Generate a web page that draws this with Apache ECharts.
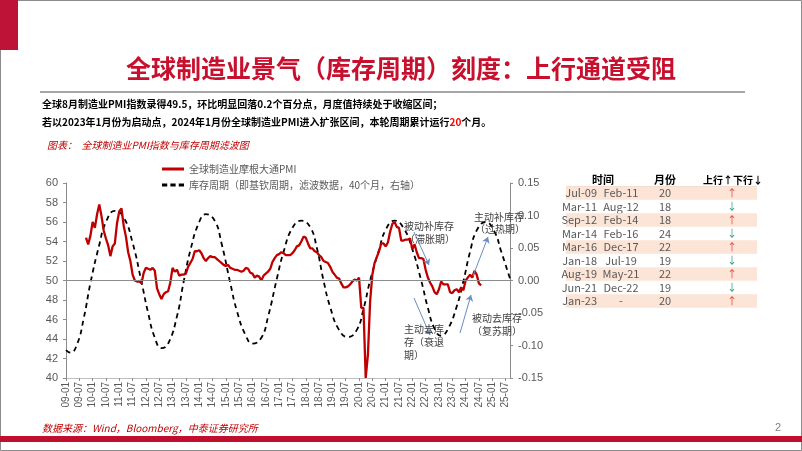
<!DOCTYPE html>
<html><head><meta charset="utf-8">
<script src="https://cdn.jsdelivr.net/npm/echarts@6.0.0/dist/echarts.min.js"></script>
<style>html,body{margin:0;padding:0;background:#fff}#c{width:802px;height:451px}</style>
</head><body><div id="c"></div>
<script>
// ---- categories (monthly, YY-MM) ----
const axisStartYear = 2009, axisEndYear = 2025, axisEndMonth = 9;
// ---- axis ticks ----
const leftMin = 40, leftMax = 60, leftStep = 2;
const rightMin = -0.15, rightMax = 0.15, rightStep = 0.05;

// ---- JPM global manufacturing PMI, monthly from 09-10 to 24-08 ----
const pmiStart = '09-10';
const pmiValues = [
  54.4, 53.7, 54.6,
  56.0, 55.4, 56.8, 57.8, 56.6, 55.1, 54.3, 53.6, 52.5, 53.5, 53.8, 55.9,
  57.1, 57.4, 55.6, 54.5, 52.9, 52.0, 50.6, 50.0, 49.9, 49.9, 49.7, 50.8,
  51.3, 51.2, 51.1, 51.3, 51.0, 49.2, 48.6, 48.1, 48.6, 48.8, 48.9, 49.8,
  51.3, 50.9, 51.1, 50.5, 50.6, 50.6, 50.7, 51.4, 51.8, 52.2, 53.0, 53.0,
  53.1, 52.8, 52.3, 52.0, 52.3, 52.5, 52.4, 52.4, 52.2, 52.0, 51.8, 51.6,
  51.5, 51.6, 51.3, 51.2, 51.1, 51.1, 51.0, 50.9, 51.0, 51.3, 51.2, 50.8,
  50.7, 50.3, 50.5, 50.4, 50.0, 50.5, 50.7, 50.9, 51.2, 51.9, 52.3, 52.6,
  52.7, 52.9, 52.8, 52.6, 52.6, 52.6, 52.8, 53.1, 53.5, 53.6, 54.0, 54.5,
  54.4, 53.8, 53.3, 53.3, 53.0, 52.9, 52.6, 52.4, 52.0, 51.9, 51.8, 51.4,
  50.9, 50.6, 50.3, 50.2, 49.7, 49.3, 49.3, 49.4, 49.6, 49.9, 50.1, 50.0,
  50.3, 47.2, 47.2, 40.0, 42.4, 47.9, 50.6, 51.8, 52.4, 53.0, 53.8, 53.8,
  53.5, 53.9, 55.0, 55.8, 56.0, 55.5, 55.4, 54.1, 54.1, 54.2, 54.2, 54.3,
  53.2, 53.7, 52.9, 52.3, 52.3, 52.2, 51.1, 50.3, 49.8, 49.4, 48.8, 48.6,
  49.1, 49.9, 49.6, 49.6, 49.6, 48.8, 48.7, 49.0, 49.1, 48.8, 49.3, 49.0,
  50.0, 50.3, 50.6, 50.3, 51.0, 50.6, 49.7, 49.5
];

// ---- inventory cycle (filtered, right axis) ----
const cycleMonths = ['09-01','09-03','09-06','09-09','09-12','10-04','10-07','10-11','11-03','11-07','11-11',
  '12-02','12-05','12-08','12-11','13-03','13-06','13-09','14-01','14-04','14-08','14-11','15-03',
  '15-06','15-10','16-01','16-05','16-08','16-12','17-03','17-07','17-11','18-03','18-06','18-09',
  '18-12','19-04','19-08','19-12','20-03','20-06','20-10','21-01','21-05','21-09','22-01','22-05',
  '22-08','22-11','23-02','23-05','23-09','23-12','24-03','24-06','24-10','25-02','25-05','25-09'];
const cycleValues = [-0.107,-0.111,-0.098,-0.058,-0.004,0.055,0.090,0.107,0.097,0.058,-0.002,
  -0.050,-0.088,-0.104,-0.097,-0.055,-0.002,0.046,0.090,0.102,0.092,0.058,-0.004,
  -0.047,-0.085,-0.097,-0.088,-0.056,0.003,0.044,0.081,0.092,0.082,0.050,0.000,
  -0.041,-0.076,-0.087,-0.076,-0.044,0.000,0.047,0.078,0.092,0.081,0.048,0.000,
  -0.042,-0.074,-0.085,-0.075,-0.040,-0.001,0.044,0.077,0.090,0.075,0.045,0.003];

// ---- table ----
const tblStart  = ['Jul-09','Mar-11','Sep-12','Mar-14','Mar-16','Jan-18','Aug-19','Jun-21','Jan-23'];
const tblEnd    = ['Feb-11','Aug-12','Feb-14','Feb-16','Dec-17','Jul-19','May-21','Dec-22','-'];
const tblMonths = [20,18,18,24,22,19,22,19,20];
const tblDir    = ['↑','↓','↑','↓','↑','↓','↑','↓','↑'];

// ---- texts ----
const titleText = '全球制造业景气（库存周期）刻度：上行通道受阻';
const line1 = '全球8月制造业PMI指数录得49.5，环比明显回落0.2个百分点，月度值持续处于收缩区间；';
const line2a = '若以2023年1月份为启动点，2024年1月份全球制造业PMI进入扩张区间，本轮周期累计运行';
const line2b = '20';
const line2c = '个月。';
const caption = '图表：  全球制造业PMI指数与库存周期滤波图';
const source = '数据来源：Wind，Bloomberg，中泰证券研究所';
const pmiName = '全球制造业摩根大通PMI';
const cycleName = '库存周期（即基钦周期，滤波数据，40个月，右轴）';

const months = [];
for (let y = axisStartYear; y <= axisEndYear; y++) {
  for (let m = 1; m <= 12; m++) {
    if (y === axisEndYear && m > axisEndMonth) break;
    months.push(String(y % 100).padStart(2, '0') + '-' + String(m).padStart(2, '0'));
  }
}
const pmiIdx = months.indexOf(pmiStart);
const pmiData = pmiValues.map((v, i) => [months[pmiIdx + i], v]);
const cycleData = cycleMonths.map((m, i) => [m, cycleValues[i]]);

const CJK = '"Noto Sans CJK SC", "Noto Sans", sans-serif';
const LAT = '"Liberation Sans", Arial, sans-serif';
const RED = '#C00000';
const GRAY = '#595959';

const graphic = [];
graphic.push({type:'rect', shape:{x:0.5,y:0.5,width:801,height:450}, style:{fill:'none', stroke:'#8c8c8c', lineWidth:1}, silent:true});
graphic.push({type:'rect', shape:{x:0,y:0,width:18,height:50}, style:{fill:'#BE1237'}, silent:true});
graphic.push({type:'text', x:401, y:68, style:{text:titleText, fill:'#C8102E', font:'bold 25px ' + CJK, align:'center', verticalAlign:'middle'}});
graphic.push({type:'line', shape:{x1:40,y1:92,x2:745,y2:92}, style:{stroke:'#A6A6A6', lineWidth:2}});
graphic.push({type:'text', x:42, y:104, style:{text:line1, fill:'#000', font:'bold 10px ' + CJK, verticalAlign:'middle'}});
graphic.push({type:'text', x:42, y:122, style:{
  text:'{a|' + line2a + '}{b|' + line2b + '}{a|' + line2c + '}', verticalAlign:'middle',
  rich:{a:{fill:'#000', font:'bold 10px ' + CJK}, b:{fill:'#FF0000', font:'bold 10px ' + CJK}}}});
graphic.push({type:'text', x:47, y:145, style:{text:caption, fill:RED, font:'italic 10px ' + CJK, verticalAlign:'middle'}});
graphic.push({type:'text', x:42, y:428, style:{text:source, fill:RED, font:'italic 10px ' + CJK, verticalAlign:'middle'}});
graphic.push({type:'text', x:778, y:428, style:{text:'2', fill:'#7f7f7f', font:'11px ' + LAT, verticalAlign:'middle', align:'center'}});
graphic.push({type:'rect', shape:{x:0,y:436,width:802,height:6}, style:{fill:'#C00F2E'}, silent:true});

// table
const rowH = 13.5, row0 = 193;
graphic.push({type:'text', x:603, y:180, style:{text:'时间', fill:'#000', font:'bold 11px ' + CJK, align:'center', verticalAlign:'middle'}});
graphic.push({type:'text', x:665, y:180, style:{text:'月份', fill:'#000', font:'bold 11px ' + CJK, align:'center', verticalAlign:'middle'}});
graphic.push({type:'text', x:733, y:180, style:{text:'上行↑下行↓', fill:'#000', font:'bold 10px ' + CJK, align:'center', verticalAlign:'middle'}});
graphic.push({type:'line', shape:{x1:566,y1:186.5,x2:757,y2:186.5}, style:{stroke:'#E8C8B8', lineWidth:1}});
tblStart.forEach((s, i) => {
  const cy = row0 + i * rowH;
  if (i % 2 === 0) graphic.push({type:'rect', shape:{x:566, y:cy - rowH/2, width:191, height:rowH}, style:{fill:'#FCE4D6'}, silent:true});
  graphic.push({type:'text', x:597, y:cy, style:{text:s, fill:GRAY, font:'11px ' + CJK, align:'right', verticalAlign:'middle'}});
  graphic.push({type:'text', x:621, y:cy, style:{text:tblEnd[i], fill:GRAY, font:'11px ' + CJK, align:'center', verticalAlign:'middle'}});
  graphic.push({type:'text', x:665, y:cy, style:{text:String(tblMonths[i]), fill:GRAY, font:'11px ' + CJK, align:'center', verticalAlign:'middle'}});
  graphic.push({type:'text', x:732, y:cy, style:{text:tblDir[i], fill: tblDir[i] === '↑' ? '#E23B3B' : '#2E9E7A', font:'10px ' + CJK, align:'center', verticalAlign:'middle'}});
});

// annotations
const annFont = '10px ' + CJK;
const ann = [
  ['被动补库存', 429, 226, 'center'], ['（滞胀期）', 430, 239, 'center'],
  ['主动补库存', 499, 217, 'center'], ['（过热期）', 500, 229, 'center'],
  ['被动去库存', 497, 318, 'center'], ['（复苏期）', 497, 331, 'center'],
  ['主动去库', 404, 329, 'left'], ['存（衰退', 404, 342, 'left'], ['期）', 404, 355, 'left']
];
ann.forEach(a => graphic.push({type:'text', x:a[1], y:a[2], z:100, style:{text:a[0], fill:'#404040', font:annFont, align:a[3], verticalAlign:'middle'}}));

const arrowStyle = {color:'#6A8CC4', width:1, type:'solid'};
const arrows = [
  [{x:414,y:232},{x:429,y:265}],
  [{x:473,y:276},{x:488,y:237}],
  [{x:460,y:333},{x:471,y:295}],
  [{x:414,y:298},{x:430,y:335}]
];

const chart = echarts.init(document.getElementById('c'));
chart.setOption({
  animation:false,
  backgroundColor:'#fff',
  grid:{left:66, right:292, top:183, bottom:73},
  legend:{
    orient:'vertical', left:157, top:159, itemWidth:22, itemHeight:3, itemGap:6,
    symbolKeepAspect:false,
    textStyle:{fontSize:10, color:GRAY, fontFamily:CJK},
    data:[
      {name:pmiName, icon:'rect'},
      {name:cycleName, icon:'path://M0,0h5v1h-5z M8,0h5v1h-5z M16,0h5v1h-5z'}
    ]
  },
  xAxis:{
    type:'category', data:months, boundaryGap:false,
    axisLine:{show:true, onZero:false, lineStyle:{color:'#BFBFBF'}},
    axisTick:{show:true, interval:5, length:3, lineStyle:{color:'#8c8c8c'}},
    axisLabel:{interval:5, rotate:90, fontSize:10, color:GRAY, fontFamily:LAT, margin:4},
    splitLine:{show:false}
  },
  yAxis:[
    {type:'value', min:leftMin, max:leftMax, interval:leftStep,
     axisLine:{show:true, lineStyle:{color:'#8c8c8c'}},
     axisTick:{show:true, length:3, lineStyle:{color:'#8c8c8c'}},
     axisLabel:{fontSize:11, color:GRAY, fontFamily:LAT, margin:8},
     splitLine:{show:false}},
    {type:'value', min:rightMin, max:rightMax, interval:rightStep,
     axisLine:{show:true, lineStyle:{color:'#8c8c8c'}},
     axisTick:{show:true, length:3, lineStyle:{color:'#8c8c8c'}},
     axisLabel:{fontSize:11, color:GRAY, fontFamily:LAT, margin:8, formatter:v => v.toFixed(2)},
     splitLine:{show:false}}
  ],
  series:[
    {name:cycleName, type:'line', yAxisIndex:1, data:cycleData, smooth:0.5, symbol:'none',
     lineStyle:{color:'#000', width:1.8, type:[5,4]}, itemStyle:{color:'#000'}, z:2,
     markLine:{silent:true, symbol:['none','arrow'], symbolSize:6, label:{show:false}, lineStyle:arrowStyle, data:arrows, z:50}},
    {name:pmiName, type:'line', yAxisIndex:0, data:pmiData, symbol:'none',
     lineStyle:{color:RED, width:2.3}, itemStyle:{color:RED}, z:3,
     markLine:{silent:true, symbol:'none', label:{show:false}, lineStyle:{color:'#8c8c8c', width:1, type:'solid'}, data:[{yAxis:50}]}}
  ],
  graphic:graphic
});
</script></body></html>
